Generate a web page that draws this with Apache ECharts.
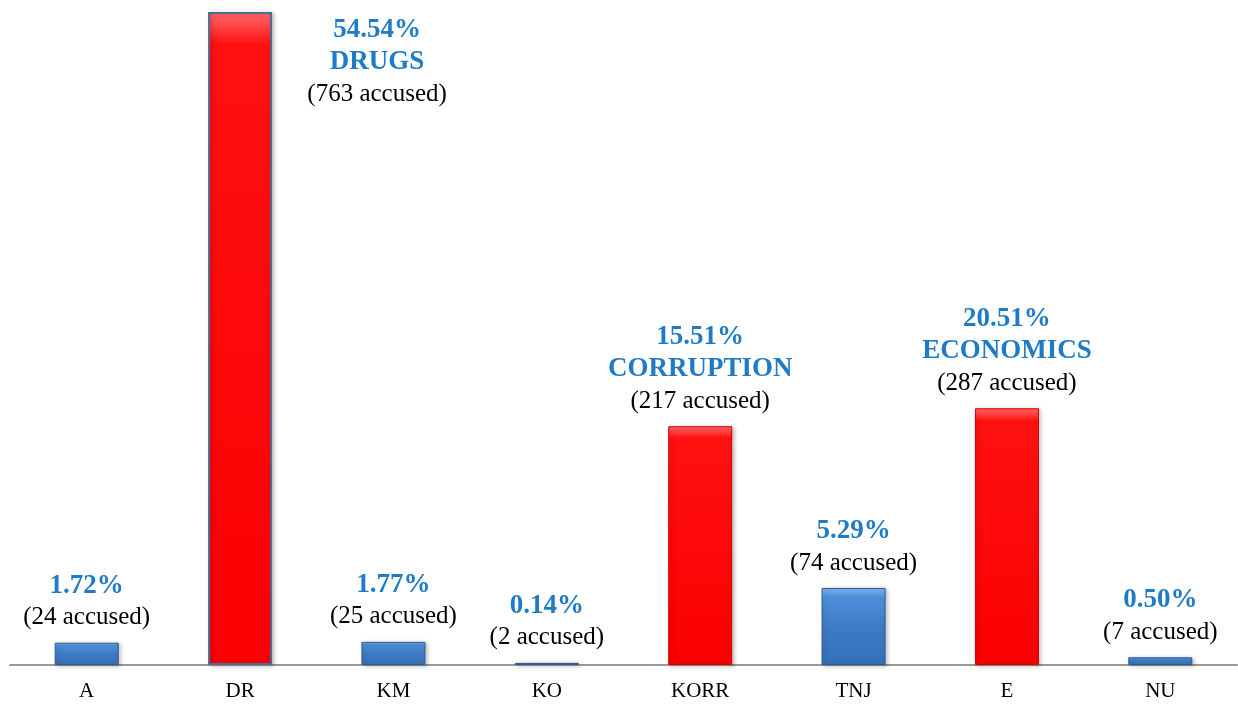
<!DOCTYPE html>
<html>
<head>
<meta charset="utf-8">
<script src="https://cdn.jsdelivr.net/npm/echarts@6/dist/echarts.min.js"></script>
<style>
  html, body { margin: 0; padding: 0; background: #fff; }
  #chart { width: 1238px; height: 705px; }
</style>
</head>
<body>
<div id="chart"></div>
<script>
// categories and label data
const categories = ['A', 'DR', 'KM', 'KO', 'KORR', 'TNJ', 'E', 'NU']
const accused = [24, 763, 25, 2, 217, 74, 287, 7]
const percents = ['1.72%', '54.54%', '1.77%', '0.14%', '15.51%', '5.29%', '20.51%', '0.50%']
const groups = ['', 'DRUGS', '', '', 'CORRUPTION', '', 'ECONOMICS', '']
// bar heights as drawn in the picture (same units as accused, DR = full height)
const barLevels = [26, 763, 27, 2.5, 279, 90, 300, 9]

const chart = echarts.init(document.getElementById('chart'))

const blueFill = new echarts.graphic.LinearGradient(0, 0, 0, 1, [
  { offset: 0, color: '#86b8f0' },
  { offset: 0.12, color: '#4d8fdb' },
  { offset: 0.5, color: '#3d7bc6' },
  { offset: 1, color: '#3470b8' }
])
const redFill = new echarts.graphic.LinearGradient(0, 0, 0, 1, [
  { offset: 0, color: '#ff6a6a' },
  { offset: 0.05, color: '#ff1010' },
  { offset: 1, color: '#fa0000' }
])

const data = barLevels.map((v, i) => {
  const red = groups[i] !== ''
  const item = {
    value: v,
    itemStyle: {
      color: red ? redFill : blueFill,
      borderColor: i === 1 ? '#4f6b95' : (red ? '#d80000' : '#2b5a93'),
      borderWidth: i === 1 ? 2 : 1
    }
  }
  if (i === 1) {
    item.label = {
      position: [169, 2],
      align: 'center',
      verticalAlign: 'top'
    }
  }
  return item
})

const option = {
  animation: false,
  grid: { left: 10, right: 1, top: 12, bottom: 40 },
  xAxis: {
    type: 'category',
    data: categories,
    axisLine: { lineStyle: { color: '#9a9a9a', width: 2 } },
    axisTick: { show: false },
    axisLabel: {
      color: '#000',
      fontFamily: 'Liberation Serif',
      fontSize: 21,
      margin: 16
    }
  },
  yAxis: {
    type: 'value',
    min: 0,
    max: 763,
    show: false,
    splitLine: { show: false }
  },
  series: [{
    type: 'bar',
    barWidth: 64,
    data: data,
    itemStyle: {
      shadowBlur: 4,
      shadowColor: 'rgba(0,0,0,0.25)',
      shadowOffsetX: 2,
      shadowOffsetY: 1
    },
    label: {
      show: true,
      position: 'top',
      distance: 9,
      formatter: p => {
        const i = p.dataIndex
        let s = '{p|' + percents[i] + '}'
        if (groups[i]) s += '\n{g|' + groups[i] + '}'
        s += '\n{n|(' + accused[i] + ' accused)}'
        return s
      },
      rich: {
        p: { fontFamily: 'Liberation Serif', fontWeight: 'bold', fontSize: 27, color: '#1f7bc6', lineHeight: 32 },
        g: { fontFamily: 'Liberation Serif', fontWeight: 'bold', fontSize: 27, color: '#1f7bc6', lineHeight: 32 },
        n: { fontFamily: 'Liberation Serif', fontSize: 25, color: '#000', lineHeight: 32 }
      }
    }
  }]
}
chart.setOption(option)
</script>
</body>
</html>
